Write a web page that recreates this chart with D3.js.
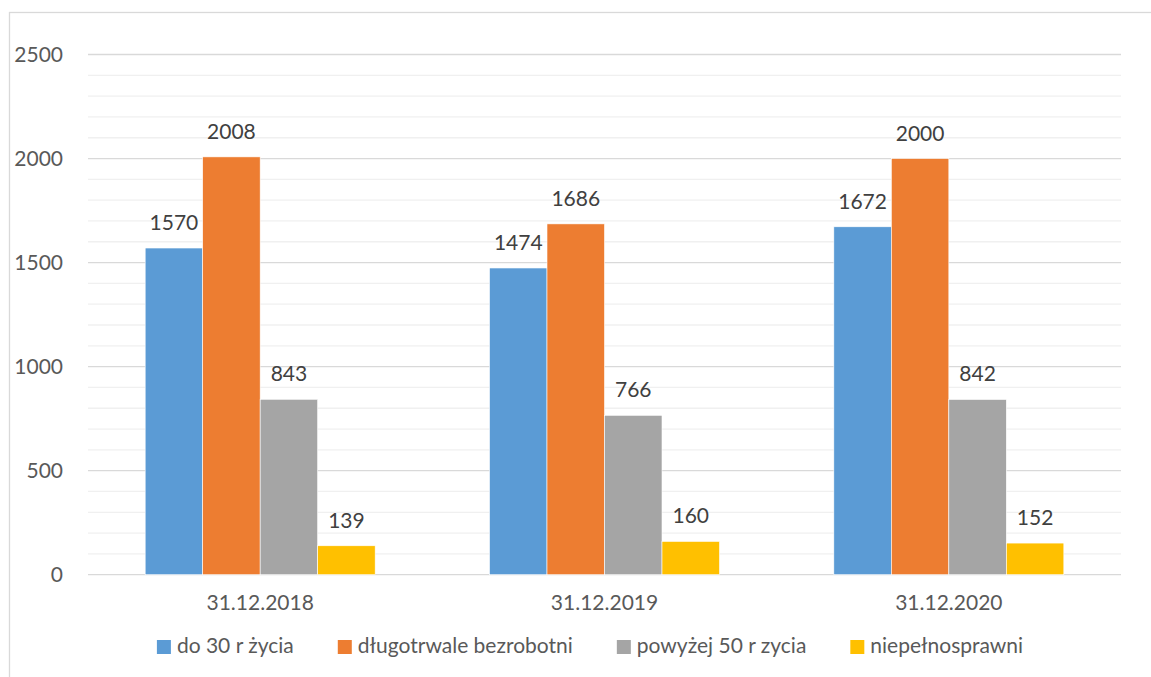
<!DOCTYPE html>
<html>
<head>
<meta charset="utf-8">
<script src="https://cdn.jsdelivr.net/npm/d3@7"></script>
<style>
	body { margin: 0; background: #fff; }
	text { font-family: Lato, "Open Sans", sans-serif; }
</style>
</head>
<body>
<script>
// data
var categories = ["31.12.2018", "31.12.2019", "31.12.2020"];
var seriesNames = ["do 30 r życia", "długotrwale bezrobotni", "powyżej 50 r zycia", "niepełnosprawni"];
var seriesColors = ["#5B9BD5", "#ED7D31", "#A5A5A5", "#FFC000"];
var values = [
	[1570, 1474, 1672],
	[2008, 1686, 2000],
	[843, 766, 842],
	[139, 160, 152]
];
var yTicks = [0, 500, 1000, 1500, 2000, 2500];

var width = 1151,
	height = 677,
	plotLeft = 88,
	plotRight = 1121,
	plotTop = 54.5,
	plotBottom = 574.7,
	fontSize = "21px";

var svg = d3.select("body")
	.append("svg")
		.attr("width", width)
		.attr("height", height);

// chart frame
svg.append("rect")
	.attr("x", 9.5)
	.attr("y", 12.5)
	.attr("width", width)
	.attr("height", height)
	.attr("fill", "none")
	.attr("stroke", "#d9d9d9")
	.attr("stroke-width", 1.3);

var x = d3.scaleBand()
	.domain(categories)
	.range([plotLeft, plotRight]);

var x1 = d3.scaleBand()
	.domain(d3.range(seriesNames.length))
	.range([0, 230]);

var y = d3.scaleLinear()
	.domain([0, 2500])
	.range([plotBottom, plotTop]);

// minor gridlines
svg.append("g")
	.selectAll("line")
	.data(d3.range(100, 2500, 100).filter(function(v) { return v % 500 !== 0; }))
	.enter()
	.append("line")
		.attr("x1", plotLeft)
		.attr("x2", plotRight)
		.attr("y1", function(d) { return y(d); })
		.attr("y2", function(d) { return y(d); })
		.attr("stroke", "#f0f0f0")
		.attr("stroke-width", 1.3);

// major gridlines
svg.append("g")
	.selectAll("line")
	.data(yTicks)
	.enter()
	.append("line")
		.attr("x1", plotLeft)
		.attr("x2", plotRight)
		.attr("y1", function(d) { return y(d); })
		.attr("y2", function(d) { return y(d); })
		.attr("stroke", "#d9d9d9")
		.attr("stroke-width", 1.3);

// y axis labels
var yAxis = d3.axisLeft(y)
	.tickValues(yTicks)
	.tickFormat(d3.format("d"))
	.tickSize(0)
	.tickPadding(0);

var gy = svg.append("g")
	.attr("transform", "translate(63,0)")
	.call(yAxis);
gy.select(".domain").remove();
gy.selectAll("text")
	.attr("font-size", fontSize)
	.attr("font-family", "Lato, sans-serif")
	.attr("fill", "#595959");

// x axis labels
var xAxis = d3.axisBottom(x)
	.tickSize(0)
	.tickPadding(0);

var gx = svg.append("g")
	.attr("transform", "translate(0," + (plotBottom + 20) + ")")
	.call(xAxis);
gx.select(".domain").remove();
gx.selectAll("text")
	.attr("font-size", fontSize)
	.attr("font-family", "Lato, sans-serif")
	.attr("fill", "#595959");

// bars
var groups = svg.append("g")
	.selectAll("g")
	.data(categories)
	.enter()
	.append("g")
		.attr("transform", function(c) {
			return "translate(" + (x(c) + x.bandwidth() / 2 - 115) + ",0)";
		});

function rows(c, i) {
	return values.map(function(s, j) { return { s: j, v: s[i] }; });
}

groups.selectAll("rect")
	.data(rows)
	.enter()
	.append("rect")
		.attr("x", function(d) { return x1(d.s); })
		.attr("y", function(d) { return y(d.v); })
		.attr("width", x1.bandwidth())
		.attr("height", function(d) { return plotBottom - y(d.v); })
		.attr("fill", function(d) { return seriesColors[d.s]; })
		.attr("stroke", "#fff")
		.attr("stroke-width", 0.6);

// value labels
groups.selectAll("text")
	.data(rows)
	.enter()
	.append("text")
		.attr("x", function(d) { return x1(d.s) + x1.bandwidth() / 2; })
		.attr("y", function(d) { return y(d.v) - 18; })
		.attr("text-anchor", "middle")
		.attr("font-size", fontSize)
		.attr("fill", "#404040")
		.text(function(d) { return d.v; });

// legend
var legend = svg.append("g");
var items = legend.selectAll("g")
	.data(seriesNames)
	.enter()
	.append("g");

items.append("rect")
	.attr("width", 14)
	.attr("height", 14)
	.attr("y", -6)
	.attr("fill", function(d, i) { return seriesColors[i]; });

items.append("text")
	.attr("x", 20)
	.attr("dy", "0.35em")
	.attr("font-size", fontSize)
	.attr("fill", "#595959")
	.text(function(d) { return d; });

var offsets = [],
	pos = 0;
items.each(function() {
	offsets.push(pos);
	pos += 20 + this.querySelector("text").getComputedTextLength() + 44;
});
var legendWidth = pos - 44;
items.attr("transform", function(d, i) {
	return "translate(" + offsets[i] + ",0)";
});
legend.attr("transform", "translate(" + (590 - legendWidth / 2) + ",646)");
</script>
</body>
</html>
